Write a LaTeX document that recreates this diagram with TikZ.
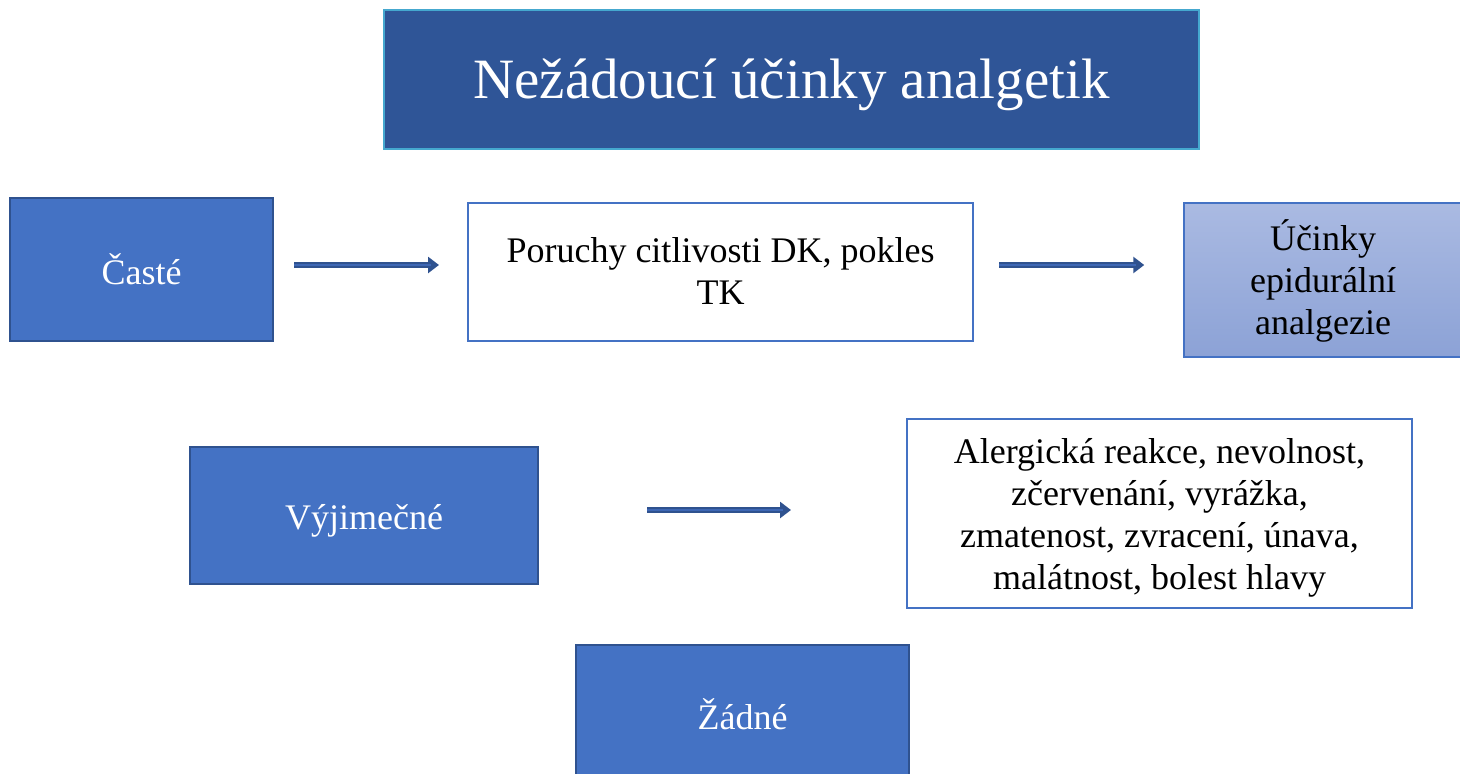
\documentclass[tikz,border=0pt]{standalone}
\usepackage{fontspec}
\setmainfont{Liberation Serif}
\usetikzlibrary{arrows.meta,calc}
\definecolor{titlefill}{HTML}{2F5597}
\definecolor{titleline}{HTML}{45A8CF}
\definecolor{bluefill}{HTML}{4472C4}
\definecolor{blueline}{HTML}{2F528F}
\definecolor{gradtop}{HTML}{AABAE2}
\definecolor{gradbot}{HTML}{8CA2D6}
\definecolor{arrline}{HTML}{2F528F}
\definecolor{arrfill}{HTML}{3E67B4}
\newcommand\lowtext[2]{\raisebox{-#1}[\height][\depth]{\begin{tabular}{@{}c@{}}#2\end{tabular}}}
\tikzset{
  x=1pt, y=-1pt,
  bluebox/.style={draw=blueline, line width=2.2pt, fill=bluefill, text=white, inner sep=0pt, align=center,
    font=\fontsize{36}{42}\selectfont},
  whitebox/.style={draw=bluefill, line width=2pt, fill=white, text=black, inner sep=0pt, align=center,
    font=\fontsize{36}{42}\selectfont},
  gradbox/.style={draw=bluefill, line width=1.5pt, top color=gradtop, bottom color=gradbot, text=black, inner sep=0pt, align=center,
    font=\fontsize{36}{42}\selectfont},
  titlebox/.style={draw=titleline, line width=1.5pt, fill=titlefill, text=white, inner sep=0pt, align=center,
    font=\fontsize{57}{62}\selectfont},
  blockarr/.style={draw=arrline, line width=6pt, -{Triangle[length=11pt,width=16pt]},
    postaction={draw=arrfill, line width=2.5pt, shorten >=8pt, -}}
}
\begin{document}
\begin{tikzpicture}
\useasboundingbox (0,0) rectangle (1460,774);
\node[titlebox, minimum width=815pt, minimum height=139pt] (title) at (791.5,79.5) {\lowtext{7pt}{Nežádoucí účinky analgetik}};
\node[bluebox, minimum width=263pt, minimum height=143pt] (caste) at (141.5,269.5) {Časté};
\node[whitebox, minimum width=505pt, minimum height=138pt] (por) at (720.5,272) {\lowtext{3pt}{Poruchy citlivosti DK, pokles\\TK}};
\node[gradbox, minimum width=278pt, minimum height=154pt] (uc) at (1323,280) {\lowtext{3pt}{Účinky\\epidurální\\analgezie}};
\node[bluebox, minimum width=348pt, minimum height=137pt] (vyj) at (364,515.5) {\lowtext{6pt}{Výjimečné}};
\node[whitebox, minimum width=505pt, minimum height=189pt] (aler) at (1159.5,513.5) {\lowtext{5pt}{Alergická reakce, nevolnost,\\zčervenání, vyrážka,\\zmatenost, zvracení, únava,\\malátnost, bolest hlavy}};
\node[bluebox, minimum width=333pt, minimum height=138pt] (zad) at (742.5,714) {Žádné};
\coordinate (a1s) at ([xshift=20pt,yshift=4.5pt]caste.east);
\coordinate (a1e) at ([xshift=-28pt,yshift=7pt]por.west);
\coordinate (a2s) at ([xshift=25pt,yshift=7pt]por.east);
\coordinate (a2e) at ([xshift=-39pt,yshift=15pt]uc.west);
\coordinate (a3s) at ([xshift=108pt,yshift=5.5pt]vyj.east);
\coordinate (a3e) at ([xshift=-115pt,yshift=3.5pt]aler.west);
\draw[blockarr] (a1s) -- (a1e);
\draw[blockarr] (a2s) -- (a2e);
\draw[blockarr] (a3s) -- (a3e);
\end{tikzpicture}
\end{document}
